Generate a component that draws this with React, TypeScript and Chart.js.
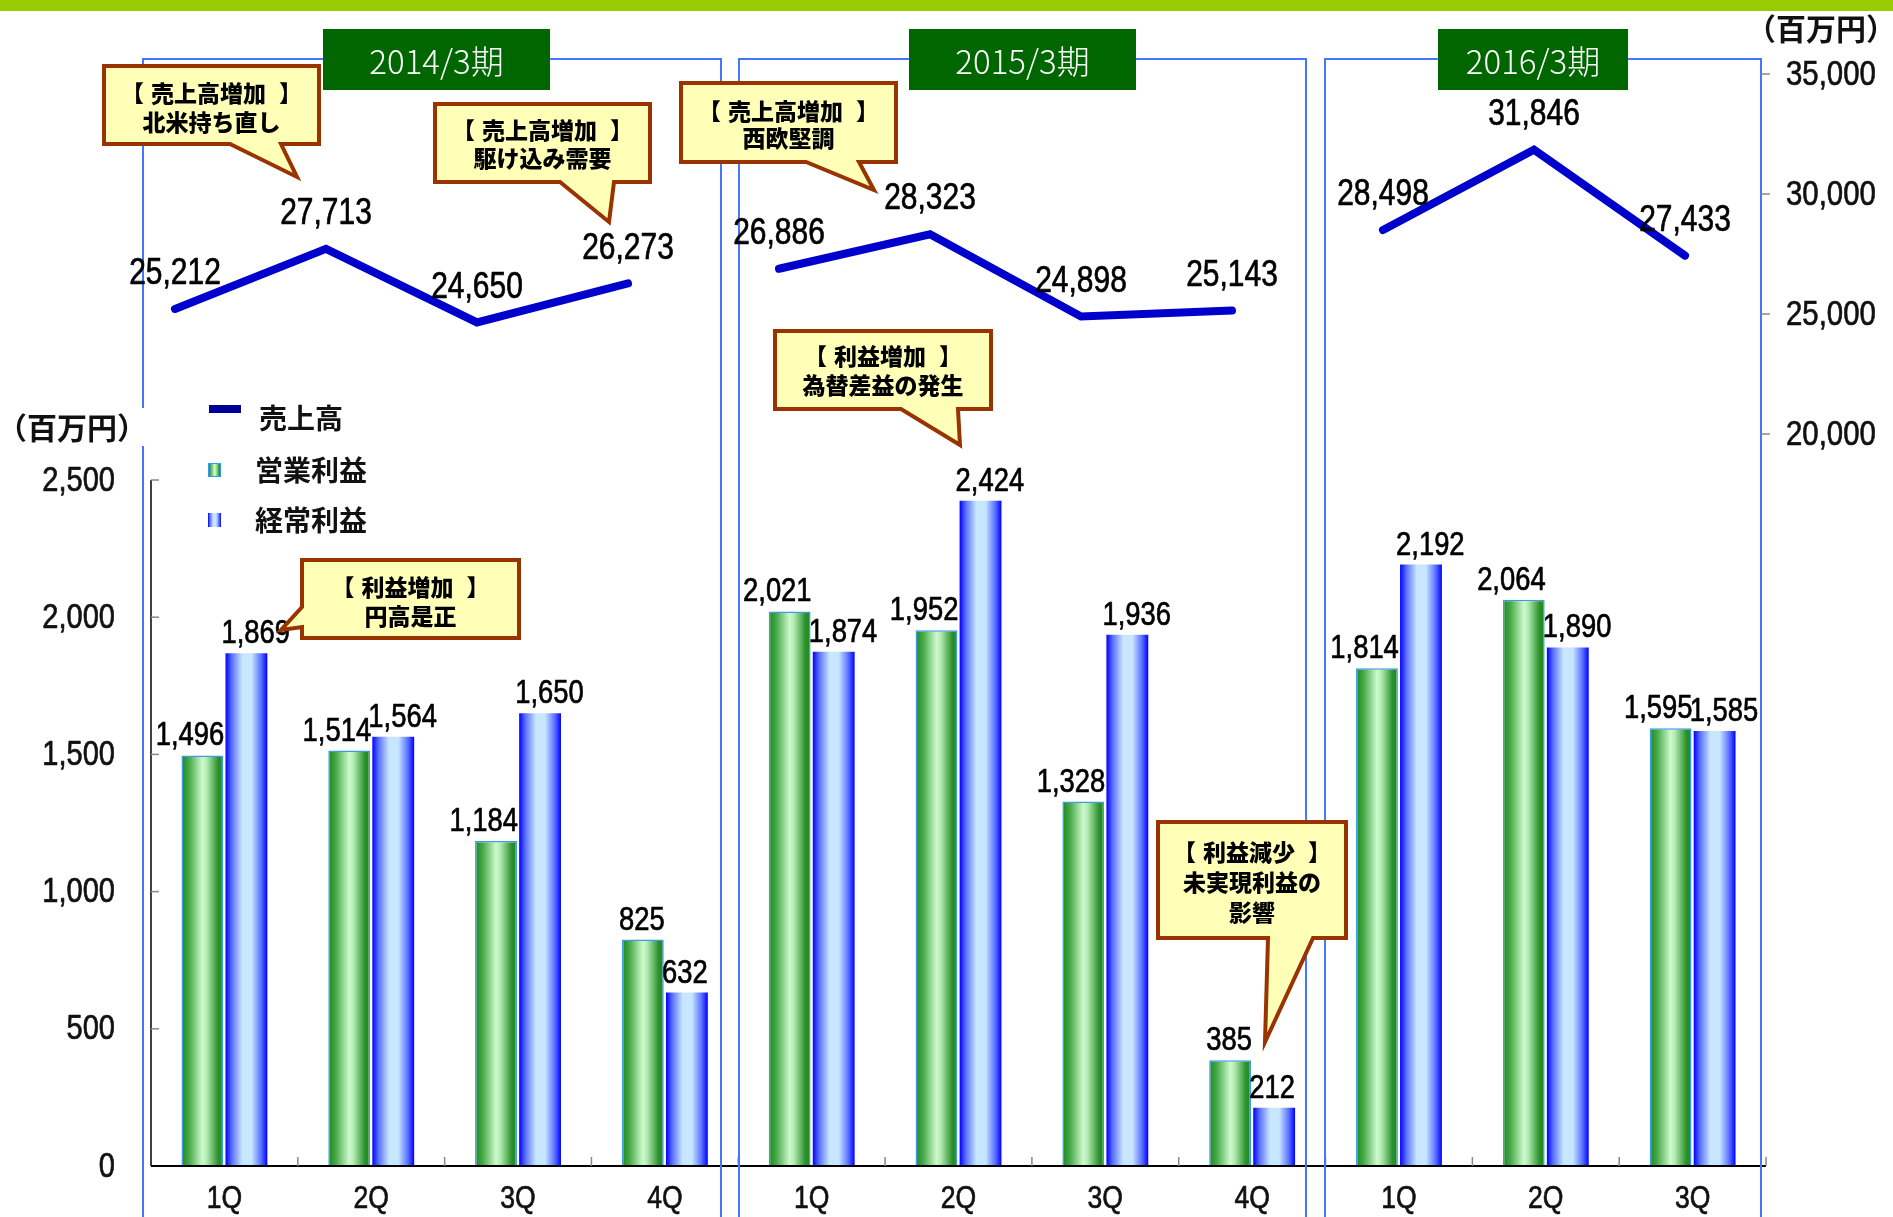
import React, { useEffect, useRef } from 'react';
import { Chart, registerables } from 'chart.js';

Chart.register(...registerables);

// ---------------- data ----------------
const quarterLabels = ['1Q', '2Q', '3Q', '4Q', '1Q', '2Q', '3Q', '4Q', '1Q', '2Q', '3Q'];
const fiscalYears = ['2014/3期', '2015/3期', '2016/3期'];
const quartersPerYear = [4, 4, 3];
const salesValues = [25212, 27713, 24650, 26273, 26886, 28323, 24898, 25143, 28498, 31846, 27433];
const operatingProfit = [1496, 1514, 1184, 825, 2021, 1952, 1328, 385, 1814, 2064, 1595];
const ordinaryProfit = [1869, 1564, 1650, 632, 1874, 2424, 1936, 212, 2192, 1890, 1585];
const leftTicks = [0, 500, 1000, 1500, 2000, 2500];
const rightTicks = [20000, 25000, 30000, 35000];
const seriesNames = ['売上高', '営業利益', '経常利益'];
const unitLabel = '（百万円）';
const calloutTexts = [
  ['【 売上高増加 】', '北米持ち直し'],
  ['【 売上高増加 】', '駆け込み需要'],
  ['【 売上高増加 】', '西欧堅調'],
  ['【 利益増加 】', '為替差益の発生'],
  ['【 利益増加 】', '円高是正'],
  ['【 利益減少 】', '未実現利益の', '影響'],
];

// ---------------- layout (pixels) ----------------
const W = 1893;
const H = 1217;
const AREA = { left: 151, right: 1766, top: 74, bottom: 1166 };
const LINE_AREA = { left: 99.5, right: 1760.5 };
const LEFT_TOP_VALUE_Y = 480; // pixel of 2500 on the left axis
const PANELS = [
  [143, 721],
  [739, 1306],
  [1325, 1761],
];
const YEAR_BOXES = [
  [323, 550],
  [909, 1136],
  [1438, 1628],
];
const CALLOUTS = [
  { box: [104, 66, 319, 144], edge: 'bottom', a: 230, b: 281, tip: [297, 177], ys: [93, 122] },
  { box: [435, 104, 650, 182], edge: 'bottom', a: 560, b: 614, tip: [609, 222], ys: [130, 158] },
  { box: [681, 83, 896, 162], edge: 'bottom', a: 806, b: 859, tip: [874, 190], ys: [111, 138] },
  { box: [775, 331, 991, 409], edge: 'bottom', a: 901, b: 958, tip: [960, 445], ys: [356, 385] },
  { box: [302, 560, 519, 638], edge: 'left', a: 607, b: 627, tip: [281, 630], ys: [587, 616] },
  { box: [1158, 822, 1346, 938], edge: 'bottom', a: 1268, b: 1313, tip: [1265, 1042], ys: [852, 882, 912] },
];

const NUM_FONT = "'Liberation Sans', Arial, sans-serif";
const CJK_FONT = "'Noto Sans CJK JP', 'Noto Sans', sans-serif";

const fmt = (v: number) => v.toLocaleString('en-US');

const LEFT_MAX = (2500 * (AREA.bottom - AREA.top)) / (AREA.bottom - LEFT_TOP_VALUE_Y);
const RIGHT_MAX = 35000;
const RIGHT_MIN = 35000 - ((AREA.bottom - AREA.top) * 5000) / 120;

// last quarter index of each fiscal year (line is broken between years)
const yearEnds = new Set<number>();
{
  let acc = 0;
  quartersPerYear.forEach((q) => {
    acc += q;
    yearEnds.add(acc - 1);
  });
}

function numText(
  ctx: CanvasRenderingContext2D,
  text: string,
  x: number,
  y: number,
  size: number,
  align: CanvasTextAlign,
  baseline: CanvasTextBaseline,
  sx = 0.83,
  color = '#111'
) {
  ctx.save();
  ctx.font = `${size}px ${NUM_FONT}`;
  ctx.fillStyle = color;
  ctx.strokeStyle = color;
  ctx.lineWidth = 0.7;
  ctx.lineJoin = 'round';
  ctx.textAlign = align;
  ctx.textBaseline = baseline;
  ctx.translate(x, y);
  ctx.scale(sx, 1);
  ctx.fillText(text, 0, 0);
  ctx.strokeText(text, 0, 0);
  ctx.restore();
}

function greenGrad(ctx: CanvasRenderingContext2D, x0: number, x1: number) {
  const g = ctx.createLinearGradient(x0, 0, x1, 0);
  g.addColorStop(0, '#1a8a1a');
  g.addColorStop(0.18, '#47a847');
  g.addColorStop(0.5, '#cdfacd');
  g.addColorStop(0.6, '#b4ecb4');
  g.addColorStop(0.88, '#2a902a');
  g.addColorStop(1, '#1d8a1d');
  return g;
}
function blueGrad(ctx: CanvasRenderingContext2D, x0: number, x1: number) {
  const g = ctx.createLinearGradient(x0, 0, x1, 0);
  g.addColorStop(0, '#0000ff');
  g.addColorStop(0.15, '#5a70ff');
  g.addColorStop(0.4, '#c8e6ff');
  g.addColorStop(0.62, '#c8e6ff');
  g.addColorStop(0.85, '#5a70ff');
  g.addColorStop(1, '#0000ff');
  return g;
}

// ---------- bar chart decorations ----------
const barDecor = {
  id: 'barDecor',
  beforeDraw(chart: any) {
    const ctx = chart.ctx as CanvasRenderingContext2D;
    ctx.save();
    ctx.fillStyle = '#ffffff';
    ctx.fillRect(0, 0, W, H);
    ctx.fillStyle = '#99cc00';
    ctx.fillRect(0, 0, W, 11);
    ctx.restore();
  },
  beforeDatasetsDraw(chart: any) {
    const ctx = chart.ctx as CanvasRenderingContext2D;
    [0, 1].forEach((di) => {
      const meta = chart.getDatasetMeta(di);
      meta.data.forEach((el: any) => {
        const p = el.getProps(['x', 'width'], true);
        const x0 = p.x - p.width / 2;
        const x1 = p.x + p.width / 2;
        const g = di === 0 ? greenGrad(ctx, x0, x1) : blueGrad(ctx, x0, x1);
        el.options = Object.assign({}, el.options, { backgroundColor: g });
      });
    });
  },
  afterDraw(chart: any) {
    const ctx = chart.ctx as CanvasRenderingContext2D;
    const xs = chart.scales.x;
    const ys = chart.scales.y;
    const area = chart.chartArea;
    ctx.save();

    // left axis
    const yTop = ys.getPixelForValue(leftTicks[leftTicks.length - 1]);
    const y0 = ys.getPixelForValue(0);
    ctx.strokeStyle = '#000';
    ctx.lineWidth = 1.5;
    ctx.beginPath();
    ctx.moveTo(area.left, yTop);
    ctx.lineTo(area.left, y0);
    ctx.stroke();
    leftTicks.forEach((t) => {
      const py = ys.getPixelForValue(t);
      ctx.strokeStyle = '#888';
      ctx.lineWidth = 1.5;
      ctx.beginPath();
      ctx.moveTo(area.left, py);
      ctx.lineTo(area.left + 8, py);
      ctx.stroke();
      numText(ctx, fmt(t), 115, py + 1, 35, 'right', 'middle');
    });

    // bottom axis
    ctx.strokeStyle = '#000';
    ctx.lineWidth = 2;
    ctx.beginPath();
    ctx.moveTo(area.left, y0);
    ctx.lineTo(area.right, y0);
    ctx.stroke();
    ctx.strokeStyle = '#888';
    ctx.lineWidth = 1.5;
    const catW = (area.right - area.left) / quarterLabels.length;
    for (let i = 0; i < quarterLabels.length; i++) {
      const bx = xs.getPixelForValue(i) + catW / 2;
      ctx.beginPath();
      ctx.moveTo(bx, y0);
      ctx.lineTo(bx, y0 - 9);
      ctx.stroke();
    }
    quarterLabels.forEach((l, i) => {
      numText(ctx, l, xs.getPixelForValue(i), 1199, 32, 'center', 'middle');
    });

    // panels
    ctx.strokeStyle = '#4477ff';
    ctx.lineWidth = 2;
    PANELS.forEach(([l, r]) => {
      ctx.beginPath();
      ctx.moveTo(l, H + 2);
      ctx.lineTo(l, 59);
      ctx.lineTo(r, 59);
      ctx.lineTo(r, H + 2);
      ctx.stroke();
    });

    // year boxes
    YEAR_BOXES.forEach(([l, r], i) => {
      ctx.fillStyle = '#006600';
      ctx.fillRect(l, 29, r - l, 61);
      ctx.fillStyle = '#ffffff';
      ctx.font = `300 33px ${CJK_FONT}`;
      ctx.textAlign = 'center';
      ctx.textBaseline = 'middle';
      ctx.fillText(fiscalYears[i], (l + r) / 2, 61);
    });

    // bar labels
    const m0 = chart.getDatasetMeta(0);
    const m1 = chart.getDatasetMeta(1);
    m0.data.forEach((el: any, i: number) => {
      const p = el.getProps(['x', 'y', 'width'], true);
      numText(ctx, fmt(operatingProfit[i]), p.x + p.width / 2 + 1, p.y - 10, 33, 'right', 'alphabetic', 0.83, '#000');
    });
    m1.data.forEach((el: any, i: number) => {
      const p = el.getProps(['x', 'y', 'width'], true);
      numText(ctx, fmt(ordinaryProfit[i]), p.x - p.width / 2 - 4, p.y - 10, 33, 'left', 'alphabetic', 0.83, '#000');
    });

    // legend
    ctx.fillStyle = '#000099';
    ctx.fillRect(209, 405, 32, 8);
    ctx.fillStyle = greenGrad(ctx, 208, 221);
    ctx.fillRect(208, 463, 13, 14);
    ctx.strokeStyle = '#3399ff';
    ctx.lineWidth = 1;
    ctx.strokeRect(208.5, 463.5, 12, 13);
    ctx.fillStyle = blueGrad(ctx, 208, 221);
    ctx.fillRect(208, 513, 13, 14);
    ctx.fillStyle = '#111';
    ctx.font = `bold 28px ${CJK_FONT}`;
    ctx.textAlign = 'left';
    ctx.textBaseline = 'middle';
    ctx.fillText(seriesNames[0], 259, 418);
    ctx.fillText(seriesNames[1], 255, 470);
    ctx.fillText(seriesNames[2], 255, 520);

    // unit titles
    ctx.fillStyle = '#ffffff';
    ctx.fillRect(6, 408, 140, 38);
    ctx.fillStyle = '#111';
    ctx.font = `bold 30px ${CJK_FONT}`;
    ctx.textAlign = 'center';
    ctx.fillText(unitLabel, 72, 428);
    ctx.textAlign = 'right';
    ctx.fillText(unitLabel, 1896, 29);

    ctx.restore();
  },
};

function calloutLine(ctx: CanvasRenderingContext2D, t: string, cx: number, y: number) {
  if (t.startsWith('【') && t.endsWith('】')) {
    const inner = t.slice(1, -1).trim();
    ctx.textAlign = 'left';
    const w = ctx.measureText(inner).width;
    const mo = ctx.measureText('【');
    const mc = ctx.measureText('】');
    const ic = cx - 3;
    const il = ic - w / 2;
    const ir = ic + w / 2;
    ctx.fillText(inner, il, y);
    ctx.fillText('【', il - 7 - mo.actualBoundingBoxRight, y);
    ctx.fillText('】', ir + 13 + mc.actualBoundingBoxLeft, y);
  } else {
    ctx.textAlign = 'center';
    ctx.fillText(t, cx, y);
  }
}

// ---------- line chart decorations ----------
const lineDecor = {
  id: 'lineDecor',
  afterDraw(chart: any) {
    const ctx = chart.ctx as CanvasRenderingContext2D;
    const ys = chart.scales.y;
    ctx.save();

    // right axis ticks & labels
    rightTicks.forEach((t) => {
      const py = ys.getPixelForValue(t);
      ctx.strokeStyle = '#888';
      ctx.lineWidth = 1.5;
      ctx.beginPath();
      ctx.moveTo(1761, py);
      ctx.lineTo(1770, py);
      ctx.stroke();
      numText(ctx, fmt(t), 1786, py + 1, 35, 'left', 'middle', 0.84);
    });

    // line labels
    const m = chart.getDatasetMeta(0);
    m.data.forEach((el: any, i: number) => {
      const p = el.getProps(['x', 'y'], true);
      numText(ctx, fmt(salesValues[i]), p.x, p.y - 35, 37, 'center', 'middle', 0.81, '#000');
    });

    // callouts
    CALLOUTS.forEach((c, ci) => {
      const [x1, yA, x2, yB] = c.box;
      ctx.beginPath();
      if (c.edge === 'bottom') {
        ctx.moveTo(x1, yA);
        ctx.lineTo(x2, yA);
        ctx.lineTo(x2, yB);
        ctx.lineTo(c.b, yB);
        ctx.lineTo(c.tip[0], c.tip[1]);
        ctx.lineTo(c.a, yB);
        ctx.lineTo(x1, yB);
      } else {
        ctx.moveTo(x1, yA);
        ctx.lineTo(x2, yA);
        ctx.lineTo(x2, yB);
        ctx.lineTo(x1, yB);
        ctx.lineTo(x1, c.b);
        ctx.lineTo(c.tip[0], c.tip[1]);
        ctx.lineTo(x1, c.a);
      }
      ctx.closePath();
      ctx.fillStyle = '#ffffb8';
      ctx.fill();
      ctx.strokeStyle = '#993300';
      ctx.lineWidth = 4;
      ctx.lineJoin = 'miter';
      ctx.stroke();
      ctx.fillStyle = '#000';
      ctx.font = `900 23px ${CJK_FONT}`;
      ctx.textBaseline = 'middle';
      calloutTexts[ci].forEach((t, li) => {
        calloutLine(ctx, t, (x1 + x2) / 2, c.ys[li]);
      });
    });

    ctx.restore();
  },
};

export default function App() {
  const barRef = useRef<HTMLCanvasElement | null>(null);
  const lineRef = useRef<HTMLCanvasElement | null>(null);
  useEffect(() => {
    if (!barRef.current || !lineRef.current) return;
    const barChart = new Chart(barRef.current, {
      type: 'bar',
      data: {
        labels: quarterLabels,
        datasets: [
          {
            label: seriesNames[1],
            data: operatingProfit,
            backgroundColor: '#2e9a2e',
            borderColor: '#3d9be8',
            borderWidth: 1.5,
            barPercentage: 0.95,
            categoryPercentage: 0.6,
          },
          {
            label: seriesNames[2],
            data: ordinaryProfit,
            backgroundColor: '#3355ff',
            borderWidth: 0,
            barPercentage: 0.95,
            categoryPercentage: 0.6,
          },
        ],
      },
      options: {
        responsive: false,
        animation: false,
        events: [],
        layout: {
          padding: { left: AREA.left, right: W - AREA.right, top: AREA.top, bottom: H - AREA.bottom },
        },
        plugins: { legend: { display: false }, tooltip: { enabled: false } },
        scales: {
          x: { type: 'category', display: false, offset: true },
          y: { type: 'linear', display: false, min: 0, max: LEFT_MAX },
        },
      },
      plugins: [barDecor],
    });

    const lineChart = new Chart(lineRef.current, {
      type: 'line',
      data: {
        labels: quarterLabels,
        datasets: [
          {
            label: seriesNames[0],
            data: salesValues,
            borderColor: '#0000cc',
            borderWidth: 8,
            pointRadius: 0,
            borderCapStyle: 'round',
            borderJoinStyle: 'miter',
            tension: 0,
            fill: false,
            segment: {
              borderColor: (c: any) => (yearEnds.has(c.p0DataIndex) ? 'rgba(0,0,0,0)' : '#0000cc'),
            },
          } as any,
        ],
      },
      options: {
        responsive: false,
        animation: false,
        events: [],
        layout: {
          padding: {
            left: LINE_AREA.left,
            right: W - LINE_AREA.right,
            top: AREA.top,
            bottom: H - AREA.bottom,
          },
        },
        plugins: { legend: { display: false }, tooltip: { enabled: false } },
        scales: {
          x: { type: 'category', display: false, offset: true },
          y: { type: 'linear', display: false, min: RIGHT_MIN, max: RIGHT_MAX },
        },
      },
      plugins: [lineDecor],
    });

    return () => {
      barChart.destroy();
      lineChart.destroy();
    };
  }, []);

  const layer: React.CSSProperties = { position: 'absolute', left: 0, top: 0, width: W, height: H, display: 'block' };
  return (
    <div style={{ position: 'fixed', left: 0, top: 0, width: W, height: H, background: '#fff' }}>
      <canvas ref={barRef} width={W} height={H} style={layer} />
      <canvas ref={lineRef} width={W} height={H} style={layer} />
    </div>
  );
}
